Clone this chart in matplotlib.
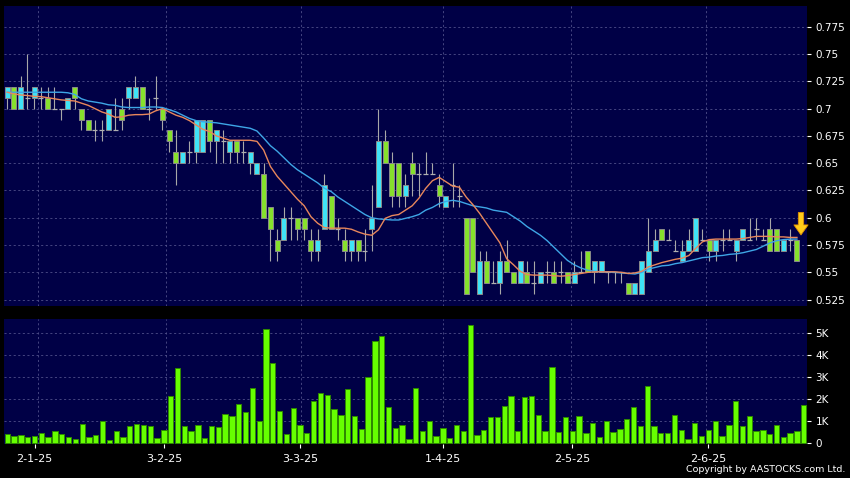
import matplotlib
matplotlib.use('Agg')
import matplotlib.pyplot as plt
import numpy as np

# daily candles (118 sessions)
opens = [0.71, 0.72, 0.70, 0.71, 0.71, 0.71, 0.71, 0.70, 0.70, 0.70,
         0.72, 0.70, 0.69, 0.68, 0.68, 0.68, 0.68, 0.70, 0.71, 0.71,
         0.72, 0.70, 0.71, 0.70, 0.68, 0.66, 0.65, 0.66, 0.66, 0.66,
         0.69, 0.67, 0.67, 0.66, 0.67, 0.66, 0.65, 0.64, 0.64, 0.61,
         0.58, 0.58, 0.60, 0.60, 0.60, 0.58, 0.57, 0.59, 0.62, 0.59,
         0.58, 0.57, 0.58, 0.57, 0.59, 0.61, 0.67, 0.65, 0.65, 0.62,
         0.65, 0.64, 0.64, 0.64, 0.63, 0.61, 0.63, 0.62, 0.60, 0.60,
         0.53, 0.56, 0.54, 0.54, 0.56, 0.55, 0.54, 0.55, 0.54, 0.54,
         0.55, 0.55, 0.55, 0.55, 0.54, 0.55, 0.57, 0.55, 0.55, 0.55,
         0.55, 0.55, 0.54, 0.53, 0.53, 0.55, 0.57, 0.59, 0.58, 0.57,
         0.56, 0.57, 0.57, 0.58, 0.58, 0.57, 0.58, 0.58, 0.57, 0.58,
         0.58, 0.59, 0.58, 0.59, 0.59, 0.57, 0.58, 0.58]
highs = [0.72, 0.72, 0.73, 0.75, 0.72, 0.72, 0.72, 0.72, 0.70, 0.71,
         0.72, 0.70, 0.69, 0.69, 0.69, 0.70, 0.71, 0.71, 0.72, 0.73,
         0.72, 0.71, 0.73, 0.70, 0.68, 0.68, 0.66, 0.67, 0.69, 0.69,
         0.69, 0.68, 0.68, 0.67, 0.67, 0.67, 0.66, 0.65, 0.65, 0.61,
         0.59, 0.61, 0.61, 0.60, 0.60, 0.59, 0.59, 0.64, 0.62, 0.60,
         0.59, 0.58, 0.58, 0.59, 0.63, 0.70, 0.68, 0.66, 0.65, 0.64,
         0.66, 0.65, 0.66, 0.65, 0.64, 0.62, 0.65, 0.63, 0.60, 0.60,
         0.57, 0.57, 0.56, 0.57, 0.58, 0.55, 0.56, 0.56, 0.56, 0.55,
         0.56, 0.56, 0.56, 0.55, 0.56, 0.57, 0.57, 0.56, 0.56, 0.55,
         0.55, 0.55, 0.54, 0.54, 0.56, 0.60, 0.59, 0.59, 0.59, 0.58,
         0.58, 0.59, 0.60, 0.59, 0.58, 0.58, 0.59, 0.59, 0.58, 0.59,
         0.60, 0.60, 0.59, 0.60, 0.59, 0.58, 0.59, 0.58]
lows = [0.70, 0.70, 0.70, 0.70, 0.70, 0.70, 0.70, 0.70, 0.69, 0.70,
        0.70, 0.68, 0.68, 0.67, 0.67, 0.68, 0.68, 0.68, 0.70, 0.71,
        0.70, 0.69, 0.70, 0.68, 0.66, 0.63, 0.65, 0.65, 0.65, 0.66,
        0.66, 0.65, 0.65, 0.65, 0.65, 0.65, 0.64, 0.64, 0.60, 0.56,
        0.56, 0.58, 0.58, 0.58, 0.58, 0.56, 0.56, 0.59, 0.59, 0.58,
        0.56, 0.56, 0.56, 0.56, 0.57, 0.61, 0.65, 0.61, 0.61, 0.61,
        0.62, 0.62, 0.64, 0.64, 0.61, 0.61, 0.61, 0.61, 0.53, 0.55,
        0.53, 0.54, 0.54, 0.53, 0.55, 0.54, 0.54, 0.54, 0.53, 0.54,
        0.54, 0.54, 0.54, 0.54, 0.54, 0.55, 0.55, 0.54, 0.55, 0.54,
        0.54, 0.54, 0.53, 0.53, 0.53, 0.55, 0.57, 0.58, 0.58, 0.57,
        0.56, 0.57, 0.57, 0.58, 0.56, 0.56, 0.57, 0.58, 0.56, 0.58,
        0.58, 0.58, 0.58, 0.57, 0.57, 0.57, 0.57, 0.56]
closes = [0.72, 0.70, 0.72, 0.71, 0.72, 0.71, 0.70, 0.70, 0.70, 0.71,
          0.71, 0.69, 0.68, 0.68, 0.68, 0.70, 0.68, 0.69, 0.72, 0.72,
          0.70, 0.70, 0.71, 0.69, 0.67, 0.65, 0.66, 0.66, 0.69, 0.69,
          0.67, 0.68, 0.67, 0.67, 0.66, 0.66, 0.66, 0.65, 0.60, 0.59,
          0.57, 0.60, 0.60, 0.59, 0.59, 0.57, 0.58, 0.63, 0.59, 0.59,
          0.57, 0.58, 0.57, 0.57, 0.60, 0.67, 0.65, 0.62, 0.62, 0.63,
          0.64, 0.64, 0.64, 0.64, 0.62, 0.62, 0.63, 0.62, 0.53, 0.55,
          0.56, 0.54, 0.54, 0.56, 0.55, 0.54, 0.56, 0.54, 0.54, 0.55,
          0.55, 0.54, 0.55, 0.54, 0.55, 0.55, 0.55, 0.56, 0.56, 0.55,
          0.55, 0.55, 0.53, 0.54, 0.56, 0.57, 0.58, 0.58, 0.58, 0.57,
          0.57, 0.58, 0.60, 0.58, 0.57, 0.58, 0.58, 0.58, 0.58, 0.59,
          0.58, 0.59, 0.58, 0.57, 0.57, 0.58, 0.58, 0.56]

# moving average lines as drawn on the chart
ma_short = [0.715, 0.7135, 0.7125, 0.712, 0.7112, 0.711, 0.710, 0.709, 0.708, 0.7075,
            0.707, 0.705, 0.703, 0.700, 0.697, 0.695, 0.692, 0.6925, 0.694, 0.6945,
            0.6945, 0.695, 0.698, 0.700, 0.697, 0.694, 0.692, 0.689, 0.685, 0.681,
            0.679, 0.675, 0.673, 0.671, 0.671, 0.671, 0.671, 0.670, 0.662, 0.647,
            0.638, 0.631, 0.624, 0.617, 0.611, 0.601, 0.595, 0.591, 0.5905, 0.5905,
            0.5905, 0.5895, 0.587, 0.585, 0.584, 0.589, 0.5995, 0.602, 0.603, 0.607,
            0.611, 0.618, 0.627, 0.634, 0.637, 0.633, 0.629, 0.628, 0.619, 0.612,
            0.604, 0.595, 0.586, 0.577, 0.5625, 0.557, 0.551, 0.548, 0.5475, 0.5475,
            0.5475, 0.547, 0.5465, 0.547, 0.548, 0.549, 0.550, 0.5505, 0.5505, 0.5505,
            0.5505, 0.550, 0.549, 0.5495, 0.551, 0.555, 0.557, 0.559, 0.5605, 0.562,
            0.563, 0.5655, 0.572, 0.578, 0.580, 0.5805, 0.5805, 0.5805, 0.5805, 0.581,
            0.582, 0.583, 0.583, 0.583, 0.5825, 0.5825, 0.582, 0.582]
ma_long = [0.715, 0.715, 0.715, 0.715, 0.715, 0.715, 0.715, 0.715, 0.715, 0.7145,
           0.713, 0.709, 0.707, 0.706, 0.705, 0.7035, 0.703, 0.7015, 0.701, 0.701,
           0.701, 0.7015, 0.7015, 0.701, 0.699, 0.697, 0.694, 0.691, 0.689, 0.688,
           0.6875, 0.687, 0.686, 0.685, 0.684, 0.683, 0.682, 0.6795, 0.673, 0.666,
           0.661, 0.655, 0.649, 0.644, 0.640, 0.636, 0.632, 0.627, 0.624, 0.619,
           0.615, 0.611, 0.607, 0.603, 0.600, 0.599, 0.5985, 0.598, 0.598, 0.5995,
           0.601, 0.603, 0.607, 0.6095, 0.613, 0.615, 0.616, 0.615, 0.613, 0.611,
           0.610, 0.609, 0.607, 0.606, 0.605, 0.601, 0.597, 0.592, 0.588, 0.584,
           0.579, 0.573, 0.567, 0.561, 0.557, 0.554, 0.552, 0.551, 0.5505, 0.5505,
           0.550, 0.5495, 0.549, 0.5485, 0.550, 0.553, 0.5545, 0.556, 0.5565, 0.558,
           0.559, 0.5605, 0.562, 0.5635, 0.564, 0.565, 0.5655, 0.5665, 0.567, 0.568,
           0.5695, 0.571, 0.574, 0.577, 0.579, 0.580, 0.5805, 0.5805]

# volume in thousands
volume_k = [0.44, 0.33, 0.38, 0.29, 0.33, 0.45, 0.27, 0.57, 0.44, 0.30,
            0.18, 0.89, 0.27, 0.39, 1.03, 0.17, 0.57, 0.29, 0.77, 0.86,
            0.83, 0.77, 0.26, 0.60, 2.13, 3.39, 0.80, 0.56, 0.83, 0.24,
            0.80, 0.74, 1.31, 1.25, 1.76, 1.40, 2.50, 1.00, 5.16, 3.62,
            1.48, 0.41, 1.60, 0.81, 0.48, 1.92, 2.29, 2.17, 1.54, 1.30,
            2.44, 1.22, 0.63, 3.02, 4.63, 4.84, 1.66, 0.68, 0.81, 0.20,
            2.52, 0.54, 1.00, 0.33, 0.71, 0.26, 0.83, 0.56, 5.35, 0.38,
            0.60, 1.20, 1.17, 1.70, 2.15, 0.55, 2.10, 2.15, 1.30, 0.55,
            3.45, 0.50, 1.20, 0.55, 1.25, 0.45, 0.90, 0.30, 1.00, 0.50,
            0.65, 1.10, 1.65, 0.80, 2.60, 0.80, 0.45, 0.45, 1.30, 0.60,
            0.20, 0.90, 0.35, 0.60, 1.00, 0.35, 0.85, 1.90, 0.80, 1.25,
            0.55, 0.60, 0.40, 0.85, 0.30, 0.45, 0.55, 1.75]

date_labels = ['2-1-25', '3-2-25', '3-3-25', '1-4-25', '2-5-25', '2-6-25']
date_idx = [4, 23, 43, 64, 83, 103]
price_ticks = [0.525, 0.55, 0.575, 0.6, 0.625, 0.65, 0.675, 0.7, 0.725, 0.75, 0.775]
vol_ticks = [0, 1, 2, 3, 4, 5]

bg = '#000046'
grid_c = '#50508a'
up_c = '#3fe3f7'
down_c = '#86e12c'
dash = (0, (2.5, 3))

x = np.arange(len(closes))
o = np.array(opens); c = np.array(closes)
h = np.array(highs); l = np.array(lows)

fig = plt.figure(figsize=(8.5, 4.78), dpi=100, facecolor='black')
ax = fig.add_axes([4/850, 1 - 306/478, 803/850, 300/478], facecolor=bg)
axv = fig.add_axes([4/850, 1 - 444/478, 803/850, 125/478], facecolor=bg)

# --- price panel ---
ax.set_xlim(-0.474, 118.49)
ax.set_ylim(0.5192, 0.794)
for p in price_ticks:
    ax.axhline(p, color=grid_c, lw=0.6, ls=dash, zorder=0)
for d in date_idx:
    ax.axvline(d + 0.5, color=grid_c, lw=0.6, ls=dash, zorder=0)

ax.vlines(x, l, h, color='#a8a8a8', lw=0.8, zorder=2)
doji = np.isclose(o, c)
up = (c > o) & ~doji
dn = (c < o) & ~doji
bw = 0.74
ax.bar(x[up], (c - o)[up], bottom=o[up], width=bw, color=up_c,
       edgecolor='#8a8a8a', lw=0.7, zorder=3)
ax.bar(x[dn], (o - c)[dn], bottom=c[dn], width=bw, color=down_c,
       edgecolor='#8a8a8a', lw=0.7, zorder=3)
ax.hlines(o[doji], x[doji] - bw / 2, x[doji] + bw / 2, color='#b0b0b0', lw=0.9, zorder=3)

ax.plot(x, ma_long, color='#3ea6e6', lw=1.0, zorder=4)
ax.plot(x, ma_short, color='#e8875c', lw=1.0, zorder=4)

# marker arrow over the latest session
ax.annotate('', xy=(117.6, 0.5843), xytext=(117.6, 0.6048),
            arrowprops=dict(arrowstyle='simple,head_length=0.6,head_width=0.85,tail_width=0.32',
                            fc='#ffcc1a', ec='#e09000', lw=0.6, mutation_scale=12,
                            shrinkA=0, shrinkB=0),
            zorder=6, annotation_clip=False)

ax.yaxis.tick_right()
ax.set_yticks(price_ticks)
ax.set_yticklabels(['%g' % p for p in price_ticks])
ax.set_xticks([])
ax.tick_params(axis='y', colors='white', labelsize=7.5, length=3, width=0.8, pad=3)
for s in ax.spines.values():
    s.set_visible(False)

# --- volume panel ---
axv.set_xlim(-0.485, 117.48)
axv.set_ylim(-0.03, 5.62)
for v in vol_ticks[1:]:
    axv.axhline(v, color=grid_c, lw=0.6, ls=dash, zorder=0)
# vertical grid at the same pixel columns as the price panel
fig.canvas.draw()
for d in date_idx:
    px = ax.transData.transform((d + 0.5, 0.6))
    xv = axv.transData.inverted().transform(px)[0]
    axv.axvline(xv, color=grid_c, lw=0.6, ls=dash, zorder=0)

axv.bar(x, volume_k, width=0.78, color='#66ff00', edgecolor='#2e8a00', lw=0.7, zorder=3)

axv.yaxis.tick_right()
axv.set_yticks(vol_ticks)
axv.set_yticklabels(['%dK' % v if v else '0' for v in vol_ticks])
axv.set_xticks(date_idx)
axv.set_xticklabels(date_labels)
axv.tick_params(axis='y', colors='white', labelsize=7.5, length=3, width=0.8, pad=3)
axv.tick_params(axis='x', colors='white', labelsize=8, length=3, width=0.8, pad=4)
for s in axv.spines.values():
    s.set_visible(False)

fig.text(845/850, 1 - 470/478, 'Copyright by AASTOCKS.com Ltd.', color='white',
         fontsize=6.8, ha='right', va='center')

fig.savefig('out.png', dpi=100, facecolor='black')
